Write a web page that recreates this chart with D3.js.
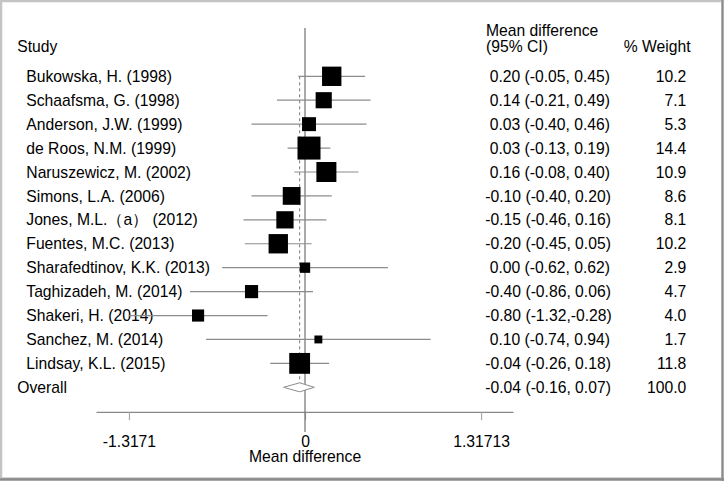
<!DOCTYPE html>
<html><head><meta charset="utf-8">
<script src="https://cdn.jsdelivr.net/npm/d3@7"></script>
<style>
html,body{margin:0;padding:0;background:#fff;}
svg{display:block;}
text{font-family:"Liberation Sans",Arial,sans-serif;fill:#000;}
</style></head>
<body>
<svg id="chart" width="724" height="481"></svg>
<script>
const studies = ["Bukowska, H. (1998)","Schaafsma, G. (1998)","Anderson, J.W. (1999)","de Roos, N.M. (1999)","Naruszewicz, M. (2002)","Simons, L.A. (2006)","Jones, M.L.（a） (2012)","Fuentes, M.C. (2013)","Sharafedtinov, K.K. (2013)","Taghizadeh, M. (2014)","Shakeri, H. (2014)","Sanchez, M. (2014)","Lindsay, K.L. (2015)"];
const estimates = [0.20,0.14,0.03,0.03,0.16,-0.10,-0.15,-0.20,0.00,-0.40,-0.80,0.10,-0.04];
const lower = [-0.05,-0.21,-0.40,-0.13,-0.08,-0.40,-0.46,-0.45,-0.62,-0.86,-1.32,-0.74,-0.26];
const upper = [0.45,0.49,0.46,0.19,0.40,0.20,0.16,0.05,0.62,0.06,-0.28,0.94,0.18];
const weights = [10.2,7.1,5.3,14.4,10.9,8.6,8.1,10.2,2.9,4.7,4.0,1.7,11.8];
const ciLabels = ["0.20 (-0.05, 0.45)","0.14 (-0.21, 0.49)","0.03 (-0.40, 0.46)","0.03 (-0.13, 0.19)","0.16 (-0.08, 0.40)","-0.10 (-0.40, 0.20)","-0.15 (-0.46, 0.16)","-0.20 (-0.45, 0.05)","0.00 (-0.62, 0.62)","-0.40 (-0.86, 0.06)","-0.80 (-1.32,-0.28)","0.10 (-0.74, 0.94)","-0.04 (-0.26, 0.18)"];
const weightLabels = ["10.2","7.1","5.3","14.4","10.9","8.6","8.1","10.2","2.9","4.7","4.0","1.7","11.8"];
const overall = {label:"Overall", est:-0.04, lo:-0.16, hi:0.07, ci:"-0.04 (-0.16, 0.07)", weight:"100.0"};
const tickValues = [-1.3171, 0, 1.31713];
const tickLabels = ["-1.3171","0","1.31713"];

const svg = d3.select("#chart");
const FS = 15.7;

// frame
svg.append("rect").attr("x",0).attr("y",0).attr("width",724).attr("height",481).attr("fill","#fff");
svg.append("rect").attr("x",1).attr("y",1).attr("width",721.5).attr("height",477.5)
  .attr("fill","none").attr("stroke","#c4c4c4").attr("stroke-width",2.5);
svg.append("line").attr("x1",722.5).attr("x2",722.5).attr("y1",0).attr("y2",481).attr("stroke","#8a8a8a").attr("stroke-width",2);
svg.append("line").attr("x1",0).attr("x2",724).attr("y1",479.5).attr("y2",479.5).attr("stroke","#8a8a8a").attr("stroke-width",2.5);

const x = d3.scaleLinear().domain([-1.56, 1.56]).range([96.5, 513.5]);
const y = d3.scaleLinear().domain([0, studies.length]).range([76.3, 387.3]);
const side = d3.scaleSqrt().domain([0, 14.4]).range([0, 23]);

// headers
svg.append("text").attr("x",17.3).attr("y",52.3).attr("font-size",FS).text("Study");
svg.append("text").attr("x",486).attr("y",36.3).attr("font-size",FS).text("Mean difference");
svg.append("text").attr("x",486).attr("y",52.3).attr("font-size",FS).text("(95% CI)");
svg.append("text").attr("x",623.7).attr("y",52.3).attr("font-size",FS).text("% Weight");

// study labels
svg.append("g").selectAll("text").data(studies).join("text")
  .attr("x",26.3).attr("y",(d,i)=>y(i)+5.6).attr("font-size",FS).text(d=>d);
svg.append("text").attr("x",17.3).attr("y",y(studies.length)+5.6).attr("font-size",FS).text(overall.label);

// CI labels
svg.append("g").selectAll("text").data(ciLabels.concat([overall.ci])).join("text")
  .attr("x",d=>d.startsWith("-")?485.3:489.7).attr("y",(d,i)=>y(i)+5.6).attr("font-size",FS).text(d=>d);
svg.append("g").selectAll("text").data(weightLabels.concat([overall.weight])).join("text")
  .attr("x",686.3).attr("text-anchor","end").attr("y",(d,i)=>y(i)+5.6).attr("font-size",FS).text(d=>d);

// axis
const axisY = 412.3;
const axis = d3.axisBottom(x).tickValues(tickValues).tickSize(8).tickFormat((d,i)=>tickLabels[i]);
const ag = svg.append("g").attr("transform",`translate(0,${axisY})`).call(axis);
ag.select(".domain").attr("stroke","#888").attr("stroke-width",1.2).attr("d",`M${x.range()[0]},0H${x.range()[1]}`);
ag.selectAll(".tick line").attr("stroke","#aaa").attr("stroke-width",1.2);
ag.selectAll(".tick text").attr("font-size",FS).attr("font-family","Liberation Sans, Arial, sans-serif").attr("fill","#000").attr("y",29.4).attr("dy","0.35em");
svg.append("text").attr("x",x(0)).attr("y",461.6).attr("text-anchor","middle").attr("font-size",FS).text("Mean difference");

// zero line
svg.append("line").attr("x1",x(0)).attr("x2",x(0)).attr("y1",28).attr("y2",432)
  .attr("stroke","#707070").attr("stroke-width",1.2);

// overall dashed line
const dTop = y(studies.length) - 4.5;
svg.append("line").attr("x1",x(overall.est)).attr("x2",x(overall.est)).attr("y1",y(0)).attr("y2",dTop)
  .attr("stroke","#777").attr("stroke-width",1).attr("stroke-dasharray","3,3");

// CI lines
svg.append("g").selectAll("line").data(studies).join("line")
  .attr("x1",(d,i)=>x(lower[i])).attr("x2",(d,i)=>x(upper[i]))
  .attr("y1",(d,i)=>y(i)).attr("y2",(d,i)=>y(i))
  .attr("stroke","#8c8c8c").attr("stroke-width",1.2);

// squares
svg.append("g").selectAll("rect").data(studies).join("rect")
  .attr("x",(d,i)=>x(estimates[i]) - side(weights[i])/2)
  .attr("y",(d,i)=>y(i) - side(weights[i])/2)
  .attr("width",(d,i)=>side(weights[i])).attr("height",(d,i)=>side(weights[i]))
  .attr("fill","#000");

// diamond
const oy = y(studies.length);
svg.append("path")
  .attr("d",`M${x(overall.lo)},${oy}L${x(overall.est)},${oy-4.5}L${x(overall.hi)},${oy}L${x(overall.est)},${oy+4.5}Z`)
  .attr("fill","#fff").attr("stroke","#8c8c8c").attr("stroke-width",1);
</script>
</body></html>
